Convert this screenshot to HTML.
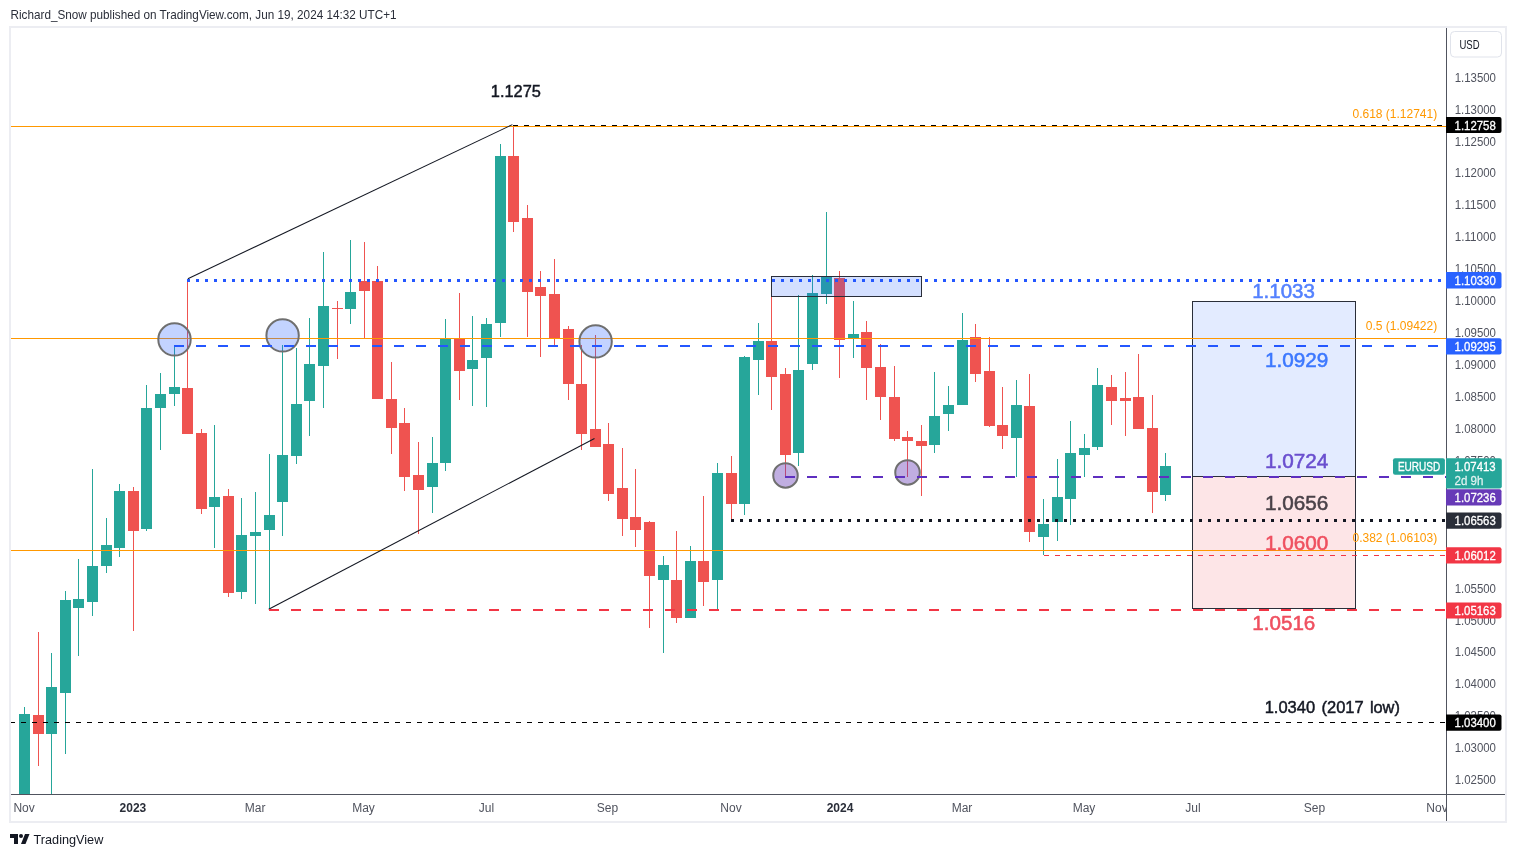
<!DOCTYPE html>
<html><head><meta charset="utf-8"><title>EURUSD chart</title>
<style>
html,body{margin:0;padding:0;background:#fff;}
body{width:1516px;height:857px;overflow:hidden;}
svg{display:block;font-family:"Liberation Sans",sans-serif;will-change:transform;}
</style></head><body>
<svg width="1516" height="857" viewBox="0 0 1516 857" >
<text x="10.5" y="19" font-size="12.6" fill="#2a2e39" textLength="386" lengthAdjust="spacingAndGlyphs">Richard_Snow published on TradingView.com, Jun 19, 2024 14:32 UTC+1</text>
<rect x="10" y="27" width="1496" height="795" fill="#ffffff" stroke="#ecedf2" stroke-width="2"/>
<defs><clipPath id="plot"><rect x="11" y="28" width="1435" height="766"/></clipPath></defs>
<g clip-path="url(#plot)">
<rect x="1193" y="301" width="163" height="176" fill="rgba(41,98,255,0.13)"/>
<rect x="1193" y="477" width="163" height="131" fill="rgba(242,54,69,0.13)"/>
<rect x="1192.5" y="301.5" width="163" height="307" fill="none" stroke="#2a2e39" stroke-width="1"/>
<rect x="1193" y="476" width="163" height="1" fill="#2a2e39"/>
<rect x="24" y="707" width="1" height="87" fill="#26a69a"/>
<rect x="19" y="714" width="11" height="80" fill="#26a69a"/>
<rect x="38" y="632" width="1" height="134" fill="#ef5350"/>
<rect x="33" y="715" width="11" height="19" fill="#ef5350"/>
<rect x="51" y="653" width="1" height="141" fill="#26a69a"/>
<rect x="46" y="687" width="11" height="47" fill="#26a69a"/>
<rect x="65" y="591" width="1" height="163" fill="#26a69a"/>
<rect x="60" y="600" width="11" height="93" fill="#26a69a"/>
<rect x="78" y="559" width="1" height="97" fill="#26a69a"/>
<rect x="73" y="599" width="11" height="9" fill="#26a69a"/>
<rect x="92" y="469" width="1" height="147" fill="#26a69a"/>
<rect x="87" y="566" width="11" height="36" fill="#26a69a"/>
<rect x="106" y="518" width="1" height="55" fill="#26a69a"/>
<rect x="101" y="545" width="11" height="21" fill="#26a69a"/>
<rect x="119" y="484" width="1" height="73" fill="#26a69a"/>
<rect x="114" y="491" width="11" height="57" fill="#26a69a"/>
<rect x="133" y="487" width="1" height="144" fill="#ef5350"/>
<rect x="128" y="491" width="11" height="40" fill="#ef5350"/>
<rect x="146" y="385" width="1" height="146" fill="#26a69a"/>
<rect x="141" y="408" width="11" height="121" fill="#26a69a"/>
<rect x="160" y="373" width="1" height="77" fill="#26a69a"/>
<rect x="155" y="394" width="11" height="14" fill="#26a69a"/>
<rect x="174" y="346" width="1" height="60" fill="#26a69a"/>
<rect x="169" y="387" width="11" height="7" fill="#26a69a"/>
<rect x="187" y="280" width="1" height="154" fill="#ef5350"/>
<rect x="182" y="388" width="11" height="46" fill="#ef5350"/>
<rect x="201" y="429" width="1" height="85" fill="#ef5350"/>
<rect x="196" y="433" width="11" height="76" fill="#ef5350"/>
<rect x="214" y="425" width="1" height="123" fill="#26a69a"/>
<rect x="209" y="497" width="11" height="10" fill="#26a69a"/>
<rect x="228" y="489" width="1" height="108" fill="#ef5350"/>
<rect x="223" y="496" width="11" height="97" fill="#ef5350"/>
<rect x="241" y="498" width="1" height="101" fill="#26a69a"/>
<rect x="236" y="535" width="11" height="57" fill="#26a69a"/>
<rect x="255" y="492" width="1" height="112" fill="#26a69a"/>
<rect x="250" y="532" width="11" height="4" fill="#26a69a"/>
<rect x="269" y="454" width="1" height="156" fill="#26a69a"/>
<rect x="264" y="515" width="11" height="15" fill="#26a69a"/>
<rect x="282" y="345" width="1" height="191" fill="#26a69a"/>
<rect x="277" y="455" width="11" height="47" fill="#26a69a"/>
<rect x="296" y="348" width="1" height="116" fill="#26a69a"/>
<rect x="291" y="404" width="11" height="52" fill="#26a69a"/>
<rect x="309" y="318" width="1" height="118" fill="#26a69a"/>
<rect x="304" y="364" width="11" height="37" fill="#26a69a"/>
<rect x="323" y="252" width="1" height="156" fill="#26a69a"/>
<rect x="318" y="306" width="11" height="60" fill="#26a69a"/>
<rect x="337" y="301" width="1" height="58" fill="#ef5350"/>
<rect x="332" y="308" width="11" height="1" fill="#ef5350"/>
<rect x="350" y="240" width="1" height="84" fill="#26a69a"/>
<rect x="345" y="292" width="11" height="17" fill="#26a69a"/>
<rect x="364" y="242" width="1" height="96" fill="#ef5350"/>
<rect x="359" y="281" width="11" height="10" fill="#ef5350"/>
<rect x="377" y="266" width="1" height="133" fill="#ef5350"/>
<rect x="372" y="281" width="11" height="118" fill="#ef5350"/>
<rect x="391" y="362" width="1" height="92" fill="#ef5350"/>
<rect x="386" y="399" width="11" height="29" fill="#ef5350"/>
<rect x="404" y="408" width="1" height="83" fill="#ef5350"/>
<rect x="399" y="423" width="11" height="54" fill="#ef5350"/>
<rect x="418" y="442" width="1" height="92" fill="#ef5350"/>
<rect x="413" y="475" width="11" height="15" fill="#ef5350"/>
<rect x="432" y="437" width="1" height="76" fill="#26a69a"/>
<rect x="427" y="463" width="11" height="24" fill="#26a69a"/>
<rect x="445" y="319" width="1" height="152" fill="#26a69a"/>
<rect x="440" y="339" width="11" height="124" fill="#26a69a"/>
<rect x="459" y="293" width="1" height="107" fill="#ef5350"/>
<rect x="454" y="339" width="11" height="32" fill="#ef5350"/>
<rect x="472" y="316" width="1" height="90" fill="#26a69a"/>
<rect x="467" y="360" width="11" height="9" fill="#26a69a"/>
<rect x="486" y="318" width="1" height="89" fill="#26a69a"/>
<rect x="481" y="324" width="11" height="34" fill="#26a69a"/>
<rect x="500" y="144" width="1" height="193" fill="#26a69a"/>
<rect x="495" y="156" width="11" height="167" fill="#26a69a"/>
<rect x="513" y="126" width="1" height="106" fill="#ef5350"/>
<rect x="508" y="156" width="11" height="66" fill="#ef5350"/>
<rect x="527" y="205" width="1" height="132" fill="#ef5350"/>
<rect x="522" y="218" width="11" height="74" fill="#ef5350"/>
<rect x="540" y="271" width="1" height="86" fill="#ef5350"/>
<rect x="535" y="287" width="11" height="9" fill="#ef5350"/>
<rect x="554" y="259" width="1" height="87" fill="#ef5350"/>
<rect x="549" y="294" width="11" height="44" fill="#ef5350"/>
<rect x="568" y="326" width="1" height="74" fill="#ef5350"/>
<rect x="563" y="329" width="11" height="55" fill="#ef5350"/>
<rect x="581" y="345" width="1" height="105" fill="#ef5350"/>
<rect x="576" y="384" width="11" height="50" fill="#ef5350"/>
<rect x="595" y="335" width="1" height="112" fill="#ef5350"/>
<rect x="590" y="429" width="11" height="18" fill="#ef5350"/>
<rect x="608" y="423" width="1" height="78" fill="#ef5350"/>
<rect x="603" y="444" width="11" height="50" fill="#ef5350"/>
<rect x="622" y="448" width="1" height="88" fill="#ef5350"/>
<rect x="617" y="488" width="11" height="31" fill="#ef5350"/>
<rect x="635" y="469" width="1" height="78" fill="#ef5350"/>
<rect x="630" y="517" width="11" height="13" fill="#ef5350"/>
<rect x="649" y="521" width="1" height="107" fill="#ef5350"/>
<rect x="644" y="522" width="11" height="54" fill="#ef5350"/>
<rect x="663" y="556" width="1" height="97" fill="#26a69a"/>
<rect x="658" y="565" width="11" height="15" fill="#26a69a"/>
<rect x="676" y="531" width="1" height="92" fill="#ef5350"/>
<rect x="671" y="580" width="11" height="38" fill="#ef5350"/>
<rect x="690" y="546" width="1" height="72" fill="#26a69a"/>
<rect x="685" y="561" width="11" height="57" fill="#26a69a"/>
<rect x="703" y="496" width="1" height="110" fill="#ef5350"/>
<rect x="698" y="561" width="11" height="21" fill="#ef5350"/>
<rect x="717" y="463" width="1" height="146" fill="#26a69a"/>
<rect x="712" y="473" width="11" height="107" fill="#26a69a"/>
<rect x="731" y="456" width="1" height="64" fill="#ef5350"/>
<rect x="726" y="473" width="11" height="31" fill="#ef5350"/>
<rect x="744" y="356" width="1" height="159" fill="#26a69a"/>
<rect x="739" y="357" width="11" height="147" fill="#26a69a"/>
<rect x="758" y="323" width="1" height="72" fill="#26a69a"/>
<rect x="753" y="341" width="11" height="19" fill="#26a69a"/>
<rect x="771" y="276" width="1" height="134" fill="#ef5350"/>
<rect x="766" y="341" width="11" height="36" fill="#ef5350"/>
<rect x="785" y="368" width="1" height="109" fill="#ef5350"/>
<rect x="780" y="374" width="11" height="81" fill="#ef5350"/>
<rect x="798" y="295" width="1" height="171" fill="#26a69a"/>
<rect x="793" y="370" width="11" height="83" fill="#26a69a"/>
<rect x="812" y="275" width="1" height="95" fill="#26a69a"/>
<rect x="807" y="293" width="11" height="71" fill="#26a69a"/>
<rect x="826" y="212" width="1" height="92" fill="#26a69a"/>
<rect x="821" y="277" width="11" height="17" fill="#26a69a"/>
<rect x="839" y="271" width="1" height="107" fill="#ef5350"/>
<rect x="834" y="278" width="11" height="62" fill="#ef5350"/>
<rect x="853" y="301" width="1" height="57" fill="#26a69a"/>
<rect x="848" y="334" width="11" height="5" fill="#26a69a"/>
<rect x="866" y="321" width="1" height="79" fill="#ef5350"/>
<rect x="861" y="332" width="11" height="36" fill="#ef5350"/>
<rect x="880" y="344" width="1" height="76" fill="#ef5350"/>
<rect x="875" y="367" width="11" height="30" fill="#ef5350"/>
<rect x="894" y="366" width="1" height="75" fill="#ef5350"/>
<rect x="889" y="397" width="11" height="42" fill="#ef5350"/>
<rect x="907" y="431" width="1" height="46" fill="#ef5350"/>
<rect x="902" y="437" width="11" height="4" fill="#ef5350"/>
<rect x="921" y="425" width="1" height="71" fill="#ef5350"/>
<rect x="916" y="441" width="11" height="5" fill="#ef5350"/>
<rect x="934" y="372" width="1" height="81" fill="#26a69a"/>
<rect x="929" y="416" width="11" height="29" fill="#26a69a"/>
<rect x="948" y="386" width="1" height="45" fill="#26a69a"/>
<rect x="943" y="405" width="11" height="9" fill="#26a69a"/>
<rect x="962" y="313" width="1" height="92" fill="#26a69a"/>
<rect x="957" y="340" width="11" height="65" fill="#26a69a"/>
<rect x="975" y="324" width="1" height="58" fill="#ef5350"/>
<rect x="970" y="337" width="11" height="37" fill="#ef5350"/>
<rect x="989" y="337" width="1" height="90" fill="#ef5350"/>
<rect x="984" y="371" width="11" height="55" fill="#ef5350"/>
<rect x="1002" y="387" width="1" height="62" fill="#ef5350"/>
<rect x="997" y="425" width="11" height="11" fill="#ef5350"/>
<rect x="1016" y="380" width="1" height="97" fill="#26a69a"/>
<rect x="1011" y="405" width="11" height="33" fill="#26a69a"/>
<rect x="1029" y="374" width="1" height="168" fill="#ef5350"/>
<rect x="1024" y="406" width="11" height="126" fill="#ef5350"/>
<rect x="1043" y="499" width="1" height="56" fill="#26a69a"/>
<rect x="1038" y="524" width="11" height="13" fill="#26a69a"/>
<rect x="1057" y="459" width="1" height="82" fill="#26a69a"/>
<rect x="1052" y="497" width="11" height="25" fill="#26a69a"/>
<rect x="1070" y="421" width="1" height="104" fill="#26a69a"/>
<rect x="1065" y="453" width="11" height="46" fill="#26a69a"/>
<rect x="1084" y="434" width="1" height="43" fill="#26a69a"/>
<rect x="1079" y="448" width="11" height="7" fill="#26a69a"/>
<rect x="1097" y="368" width="1" height="82" fill="#26a69a"/>
<rect x="1092" y="385" width="11" height="62" fill="#26a69a"/>
<rect x="1111" y="375" width="1" height="50" fill="#ef5350"/>
<rect x="1106" y="387" width="11" height="14" fill="#ef5350"/>
<rect x="1125" y="372" width="1" height="64" fill="#ef5350"/>
<rect x="1120" y="398" width="11" height="3" fill="#ef5350"/>
<rect x="1138" y="354" width="1" height="75" fill="#ef5350"/>
<rect x="1133" y="397" width="11" height="32" fill="#ef5350"/>
<rect x="1152" y="395" width="1" height="118" fill="#ef5350"/>
<rect x="1147" y="428" width="11" height="64" fill="#ef5350"/>
<rect x="1165" y="453" width="1" height="48" fill="#26a69a"/>
<rect x="1160" y="466" width="11" height="29" fill="#26a69a"/>
<rect x="11" y="126" width="1435" height="1" fill="#ff9800"/>
<rect x="11" y="338" width="1435" height="1" fill="#ff9800"/>
<rect x="11" y="550" width="1435" height="1" fill="#ff9800"/>
<line x1="187.9" y1="278.7" x2="512.4" y2="124.6" stroke="#131722" stroke-width="1.05"/>
<line x1="268.7" y1="609.2" x2="594.5" y2="438.5" stroke="#131722" stroke-width="1.05"/>
<circle cx="174.5" cy="339.4" r="16.2" fill="rgba(41,98,255,0.28)" stroke="#6f6f6f" stroke-width="2"/>
<circle cx="282.6" cy="335.4" r="16.2" fill="rgba(41,98,255,0.28)" stroke="#6f6f6f" stroke-width="2"/>
<circle cx="595.6" cy="341.4" r="16.2" fill="rgba(41,98,255,0.28)" stroke="#6f6f6f" stroke-width="2"/>
<circle cx="785.5" cy="475.4" r="12.25" fill="rgba(103,58,183,0.41)" stroke="#6f6f6f" stroke-width="2"/>
<circle cx="907.5" cy="472.4" r="12.25" fill="rgba(103,58,183,0.41)" stroke="#6f6f6f" stroke-width="2"/>
<rect x="771.5" y="276.5" width="150" height="20" fill="rgba(41,98,255,0.2)" stroke="#2a2e39" stroke-width="1"/>
<g shape-rendering="crispEdges">
<line x1="513" y1="125.5" x2="1446" y2="125.5" stroke="#000" stroke-width="1" stroke-dasharray="5 6"/>
<line x1="187" y1="280.5" x2="1446" y2="280.5" stroke="#2457ff" stroke-width="3" stroke-dasharray="3 6"/>
<line x1="174" y1="346" x2="1446" y2="346" stroke="#2457ff" stroke-width="2" stroke-dasharray="10 12"/>
<line x1="785" y1="477" x2="1446" y2="477" stroke="#5e2fc0" stroke-width="2" stroke-dasharray="10 12"/>
<line x1="731" y1="520.5" x2="1446" y2="520.5" stroke="#131722" stroke-width="3" stroke-dasharray="3 6"/>
<line x1="1044" y1="555.5" x2="1446" y2="555.5" stroke="#f23645" stroke-width="1" stroke-dasharray="5 6"/>
<line x1="269" y1="610" x2="1446" y2="610" stroke="#f23645" stroke-width="2" stroke-dasharray="10 12"/>
<line x1="10" y1="722.5" x2="1446" y2="722.5" stroke="#000" stroke-width="1" stroke-dasharray="5 6"/>
</g>
<g>
<text x="490.8" y="97" font-size="16" fill="#131722" stroke="#131722" stroke-width="0.45" textLength="50.1" lengthAdjust="spacingAndGlyphs">1.1275</text>
<text x="1252.2" y="297.8" font-size="20.3" fill="#5582ff" stroke="#5582ff" stroke-width="0.55" textLength="62.6" lengthAdjust="spacingAndGlyphs">1.1033</text>
<text x="1265" y="366.8" font-size="20.3" fill="#3c78ff" stroke="#3c78ff" stroke-width="0.55" textLength="63.3" lengthAdjust="spacingAndGlyphs">1.0929</text>
<text x="1265" y="468.1" font-size="20.3" fill="#6a4fcf" stroke="#6a4fcf" stroke-width="0.55" textLength="63.3" lengthAdjust="spacingAndGlyphs">1.0724</text>
<text x="1265" y="510" font-size="20.3" fill="#4a4249" stroke="#4a4249" stroke-width="0.55" textLength="63.3" lengthAdjust="spacingAndGlyphs">1.0656</text>
<text x="1265" y="550.2" font-size="20.3" fill="#ef5060" stroke="#ef5060" stroke-width="0.55" textLength="63.3" lengthAdjust="spacingAndGlyphs">1.0600</text>
<text x="1252.3" y="629.8" font-size="20.3" fill="#ef5060" stroke="#ef5060" stroke-width="0.55" textLength="63" lengthAdjust="spacingAndGlyphs">1.0516</text>
<g font-size="16" fill="#131722" stroke="#131722" stroke-width="0.45">
<text x="1264.7" y="713" textLength="50.4" lengthAdjust="spacingAndGlyphs">1.0340</text>
<text x="1321.5" y="713" textLength="42.2" lengthAdjust="spacingAndGlyphs">(2017</text>
<text x="1369.9" y="713" textLength="30" lengthAdjust="spacingAndGlyphs">low)</text>
</g>
</g>
<text x="1437.2" y="117.8" font-size="12" fill="#ff9800" text-anchor="end">0.618 (1.12741)</text>
<text x="1437.2" y="329.8" font-size="12" fill="#ff9800" text-anchor="end">0.5 (1.09422)</text>
<text x="1437.2" y="541.5" font-size="12" fill="#ff9800" text-anchor="end">0.382 (1.06103)</text>
</g>
<rect x="1446" y="28" width="1" height="793" fill="#50535e"/>
<rect x="11" y="794" width="1494" height="1" fill="#50535e"/>
<text x="1454.7" y="82" font-size="12" fill="#50535e" textLength="41.3" lengthAdjust="spacingAndGlyphs">1.13500</text>
<text x="1454.7" y="114" font-size="12" fill="#50535e" textLength="41.3" lengthAdjust="spacingAndGlyphs">1.13000</text>
<text x="1454.7" y="146" font-size="12" fill="#50535e" textLength="41.3" lengthAdjust="spacingAndGlyphs">1.12500</text>
<text x="1454.7" y="177" font-size="12" fill="#50535e" textLength="41.3" lengthAdjust="spacingAndGlyphs">1.12000</text>
<text x="1454.7" y="209" font-size="12" fill="#50535e" textLength="41.3" lengthAdjust="spacingAndGlyphs">1.11500</text>
<text x="1454.7" y="241" font-size="12" fill="#50535e" textLength="41.3" lengthAdjust="spacingAndGlyphs">1.11000</text>
<text x="1454.7" y="273" font-size="12" fill="#50535e" textLength="41.3" lengthAdjust="spacingAndGlyphs">1.10500</text>
<text x="1454.7" y="305" font-size="12" fill="#50535e" textLength="41.3" lengthAdjust="spacingAndGlyphs">1.10000</text>
<text x="1454.7" y="337" font-size="12" fill="#50535e" textLength="41.3" lengthAdjust="spacingAndGlyphs">1.09500</text>
<text x="1454.7" y="369" font-size="12" fill="#50535e" textLength="41.3" lengthAdjust="spacingAndGlyphs">1.09000</text>
<text x="1454.7" y="401" font-size="12" fill="#50535e" textLength="41.3" lengthAdjust="spacingAndGlyphs">1.08500</text>
<text x="1454.7" y="433" font-size="12" fill="#50535e" textLength="41.3" lengthAdjust="spacingAndGlyphs">1.08000</text>
<text x="1454.7" y="465" font-size="12" fill="#50535e" textLength="41.3" lengthAdjust="spacingAndGlyphs">1.07500</text>
<text x="1454.7" y="593" font-size="12" fill="#50535e" textLength="41.3" lengthAdjust="spacingAndGlyphs">1.05500</text>
<text x="1454.7" y="625" font-size="12" fill="#50535e" textLength="41.3" lengthAdjust="spacingAndGlyphs">1.05000</text>
<text x="1454.7" y="656" font-size="12" fill="#50535e" textLength="41.3" lengthAdjust="spacingAndGlyphs">1.04500</text>
<text x="1454.7" y="688" font-size="12" fill="#50535e" textLength="41.3" lengthAdjust="spacingAndGlyphs">1.04000</text>
<text x="1454.7" y="720" font-size="12" fill="#50535e" textLength="41.3" lengthAdjust="spacingAndGlyphs">1.03500</text>
<text x="1454.7" y="752" font-size="12" fill="#50535e" textLength="41.3" lengthAdjust="spacingAndGlyphs">1.03000</text>
<text x="1454.7" y="784" font-size="12" fill="#50535e" textLength="41.3" lengthAdjust="spacingAndGlyphs">1.02500</text>
<path d="M1446 117 H1499.5 Q1501.5 117 1501.5 119 V131 Q1501.5 133 1499.5 133 H1446 Z" fill="#000000"/>
<text x="1454.6" y="129.6" font-size="12" fill="#fff" stroke="#fff" stroke-width="0.3" textLength="41.2" lengthAdjust="spacingAndGlyphs">1.12758</text>
<path d="M1446 272 H1499.5 Q1501.5 272 1501.5 274 V286.5 Q1501.5 288.5 1499.5 288.5 H1446 Z" fill="#2962ff"/>
<text x="1454.6" y="284.9" font-size="12" fill="#fff" stroke="#fff" stroke-width="0.3" textLength="41.2" lengthAdjust="spacingAndGlyphs">1.10330</text>
<path d="M1446 338.3 H1499.5 Q1501.5 338.3 1501.5 340.3 V352.6 Q1501.5 354.6 1499.5 354.6 H1446 Z" fill="#2962ff"/>
<text x="1454.6" y="351.1" font-size="12" fill="#fff" stroke="#fff" stroke-width="0.3" textLength="41.2" lengthAdjust="spacingAndGlyphs">1.09295</text>
<path d="M1446 512.6 H1499.5 Q1501.5 512.6 1501.5 514.6 V526.8 Q1501.5 528.8 1499.5 528.8 H1446 Z" fill="#2a2e39"/>
<text x="1454.6" y="525.3" font-size="12" fill="#fff" stroke="#fff" stroke-width="0.3" textLength="41.2" lengthAdjust="spacingAndGlyphs">1.06563</text>
<path d="M1446 547.2 H1499.5 Q1501.5 547.2 1501.5 549.2 V561.6 Q1501.5 563.6 1499.5 563.6 H1446 Z" fill="#f23645"/>
<text x="1454.6" y="560.0" font-size="12" fill="#fff" stroke="#fff" stroke-width="0.3" textLength="41.2" lengthAdjust="spacingAndGlyphs">1.06012</text>
<path d="M1446 602.4 H1499.5 Q1501.5 602.4 1501.5 604.4 V616.6 Q1501.5 618.6 1499.5 618.6 H1446 Z" fill="#f23645"/>
<text x="1454.6" y="615.1" font-size="12" fill="#fff" stroke="#fff" stroke-width="0.3" textLength="41.2" lengthAdjust="spacingAndGlyphs">1.05163</text>
<path d="M1446 714.4 H1499.5 Q1501.5 714.4 1501.5 716.4 V728.8 Q1501.5 730.8 1499.5 730.8 H1446 Z" fill="#000000"/>
<text x="1454.6" y="727.2" font-size="12" fill="#fff" stroke="#fff" stroke-width="0.3" textLength="41.2" lengthAdjust="spacingAndGlyphs">1.03400</text>
<path d="M1446 489.2 H1499.5 Q1501.5 489.2 1501.5 491.2 V503.6 Q1501.5 505.6 1499.5 505.6 H1446 Z" fill="#673ab7"/>
<text x="1454.6" y="502.0" font-size="12" fill="#fff" stroke="#fff" stroke-width="0.3" textLength="41.2" lengthAdjust="spacingAndGlyphs">1.07236</text>
<path d="M1446 458.2 H1499.5 Q1501.8 458.2 1501.8 460.5 V486.3 Q1501.8 488.6 1499.5 488.6 H1446 Z" fill="#26a69a"/>
<text x="1454.5" y="470.8" font-size="12" fill="#fff" stroke="#fff" stroke-width="0.3" textLength="41.2" lengthAdjust="spacingAndGlyphs">1.07413</text>
<text x="1454.5" y="485.1" font-size="12" fill="rgba(255,255,255,0.78)" stroke="rgba(255,255,255,0.78)" stroke-width="0.3" textLength="28.9" lengthAdjust="spacingAndGlyphs">2d 9h</text>
<rect x="1393" y="458.2" width="51.9" height="16.6" rx="2" fill="#26a69a"/>
<text x="1397.9" y="470.8" font-size="12" fill="#fff" stroke="#fff" stroke-width="0.3" textLength="42.4" lengthAdjust="spacingAndGlyphs">EURUSD</text>
<rect x="1450.5" y="31.5" width="51" height="25.5" rx="4" fill="#fff" stroke="#e0e3eb" stroke-width="1"/>
<text x="1459.5" y="48.8" font-size="12" fill="#131722" textLength="20.1" lengthAdjust="spacingAndGlyphs">USD</text>
<defs><clipPath id="tax"><rect x="11" y="795" width="1435" height="26"/></clipPath></defs>
<g clip-path="url(#tax)">
<text x="24.1" y="811.9" font-size="12" fill="#50535e" text-anchor="middle">Nov</text>
<text x="132.9" y="811.9" font-size="12" fill="#2a2e39" text-anchor="middle" font-weight="bold">2023</text>
<text x="255.1" y="811.9" font-size="12" fill="#50535e" text-anchor="middle">Mar</text>
<text x="363.5" y="811.9" font-size="12" fill="#50535e" text-anchor="middle">May</text>
<text x="486.5" y="811.9" font-size="12" fill="#50535e" text-anchor="middle">Jul</text>
<text x="607.5" y="811.9" font-size="12" fill="#50535e" text-anchor="middle">Sep</text>
<text x="731" y="811.9" font-size="12" fill="#50535e" text-anchor="middle">Nov</text>
<text x="840" y="811.9" font-size="12" fill="#2a2e39" text-anchor="middle" font-weight="bold">2024</text>
<text x="962" y="811.9" font-size="12" fill="#50535e" text-anchor="middle">Mar</text>
<text x="1084" y="811.9" font-size="12" fill="#50535e" text-anchor="middle">May</text>
<text x="1193" y="811.9" font-size="12" fill="#50535e" text-anchor="middle">Jul</text>
<text x="1314.5" y="811.9" font-size="12" fill="#50535e" text-anchor="middle">Sep</text>
<text x="1437" y="811.9" font-size="12" fill="#50535e" text-anchor="middle">Nov</text>
</g>
<g shape-rendering="auto">
<path d="M10 834 H18 V844 H14 V838 H10 Z" fill="#131722"/>
<circle cx="21" cy="836" r="2" fill="#131722"/>
<path d="M25 834 H29.5 L25.5 844 H21 Z" fill="#131722"/>
</g>
<text x="33.6" y="843.6" font-size="13" fill="#131722" textLength="69.7" lengthAdjust="spacingAndGlyphs">TradingView</text>
</svg>
</body></html>
